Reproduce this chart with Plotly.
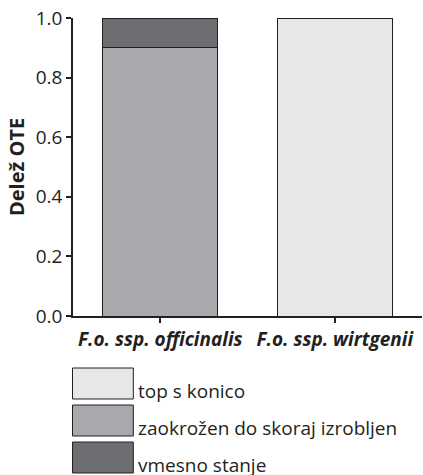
import plotly.graph_objects as go

categories = ["<i>F.o. ssp. officinalis</i>", "<i>F.o. ssp. wirtgenii</i>"]
series_names = ["top s konico", "zaokrožen do skoraj izrobljen", "vmesno stanje"]
top_s_konico = [0.0, 1.0]
zaokrozen = [0.9, 0.0]
vmesno = [0.1, 0.0]
y_ticks = [0.0, 0.2, 0.4, 0.6, 0.8, 1.0]
y_tick_labels = ["0.0", "0.2", "0.4", "0.6", "0.8", "1.0"]

colors = ["#e6e7e8", "#a7a9ac", "#6d6e71"]
edge = "#231f20"
FONT = "Open Sans"

W, H = 423, 475
ML, MR, MT, MB = 72.5, 0.5, 18, 159
plot_h = H - MT - MB
plot_w = W - ML - MR

fig = go.Figure()
for name, vals, col in zip(series_names, [top_s_konico, zaokrozen, vmesno], colors):
    fig.add_trace(go.Bar(
        x=categories, y=vals, name=name,
        marker=dict(color=col, line=dict(color=edge, width=1)),
        width=0.66, showlegend=False,
    ))

def px_y(py):
    return (H - MB - py) / plot_h

def px_x(px):
    return (px - ML) / plot_w

# legend drawn manually
box_x0, box_x1 = 72, 133
box_tops = [368, 405, 442]
box_h = 31
for name, col, top in zip(series_names, colors, box_tops):
    fig.add_shape(type="rect", xref="paper", yref="paper",
                  x0=px_x(box_x0), x1=px_x(box_x1),
                  y0=px_y(top), y1=px_y(top + box_h),
                  fillcolor=col, line=dict(color=edge, width=1))
    fig.add_annotation(xref="paper", yref="paper", x=px_x(136), y=px_y(top + box_h - 8),
                       text=name, showarrow=False, xanchor="left", yanchor="middle",
                       font=dict(family=FONT, size=19, color=edge))

fig.update_layout(
    barmode="stack",
    width=W, height=H,
    margin=dict(l=ML, r=MR, t=MT, b=MB),
    plot_bgcolor="white", paper_bgcolor="white",
    font=dict(family=FONT, color=edge),
    xaxis=dict(
        range=[-0.5, 1.5], showline=True, linecolor=edge, linewidth=1.5,
        ticks="outside", ticklen=5, tickcolor=edge, tickwidth=1.5,
        tickfont=dict(family=FONT, size=19, color=edge, weight="bold"),
        showgrid=False, zeroline=False,
    ),
    yaxis=dict(
        range=[0, 1.0], showline=True, linecolor=edge, linewidth=1.5,
        ticks="outside", ticklen=5, tickcolor=edge, tickwidth=1.5,
        tickvals=y_ticks, ticktext=y_tick_labels,
        tickfont=dict(family=FONT, size=19, color=edge),
        title=dict(text="<b>Delež OTE</b>", font=dict(family=FONT, size=20, color=edge), standoff=6),
        showgrid=False, zeroline=False,
    ),
)

fig.write_html("out.html", config={"displayModeBar": False},
               post_script="document.body.style.margin='0';document.body.style.padding='0';")
